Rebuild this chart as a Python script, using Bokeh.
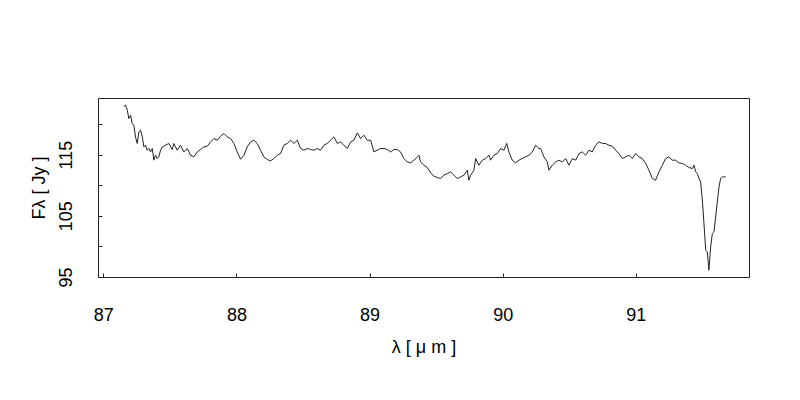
from bokeh.plotting import figure
from bokeh.models import FixedTicker, Range1d
from bokeh.embed import file_html
from bokeh.resources import INLINE

# wavelength (micron) and flux (Jy)
wavelength = [
    87.150, 87.163, 87.176, 87.188, 87.201, 87.213, 87.225, 87.238, 87.251, 87.263,
    87.276, 87.289, 87.301, 87.313, 87.326, 87.338, 87.351, 87.364, 87.376, 87.388,
    87.401, 87.413, 87.426, 87.439, 87.464, 87.488, 87.514, 87.526, 87.551, 87.576,
    87.601, 87.627, 87.651, 87.676, 87.702, 87.727, 87.751, 87.777, 87.802, 87.826,
    87.852, 87.877, 87.902, 87.927, 87.952, 87.977, 88.002, 88.027, 88.052, 88.077,
    88.102, 88.127, 88.153, 88.177, 88.202, 88.228, 88.252, 88.277, 88.303, 88.328,
    88.352, 88.378, 88.403, 88.428, 88.453, 88.478, 88.503, 88.528, 88.553, 88.578,
    88.603, 88.628, 88.653, 88.678, 88.703, 88.728, 88.754, 88.778, 88.803, 88.829,
    88.854, 88.878, 88.904, 88.929, 88.953, 88.979, 89.004, 89.029, 89.054, 89.079,
    89.104, 89.129, 89.154, 89.179, 89.204, 89.229, 89.254, 89.279, 89.304, 89.329,
    89.355, 89.367, 89.379, 89.404, 89.430, 89.455, 89.479, 89.505, 89.530, 89.554,
    89.580, 89.605, 89.630, 89.655, 89.680, 89.705, 89.730, 89.742, 89.755, 89.780,
    89.793, 89.817, 89.843, 89.868, 89.893, 89.905, 89.930, 89.956, 89.980, 90.005,
    90.026, 90.043, 90.068, 90.093, 90.118, 90.143, 90.168, 90.193, 90.219, 90.243,
    90.268, 90.281, 90.306, 90.331, 90.343, 90.369, 90.394, 90.418, 90.444, 90.469,
    90.494, 90.519, 90.544, 90.569, 90.594, 90.619, 90.644, 90.669, 90.694, 90.719,
    90.745, 90.769, 90.794, 90.820, 90.844, 90.869, 90.895, 90.920, 90.944, 90.970,
    90.995, 91.020, 91.045, 91.070, 91.095, 91.120, 91.145, 91.170, 91.195, 91.220,
    91.245, 91.270, 91.295, 91.320, 91.346, 91.370, 91.395, 91.421, 91.433, 91.446,
    91.458, 91.470, 91.483, 91.496, 91.508, 91.521, 91.533, 91.545, 91.558, 91.571,
    91.583, 91.596, 91.608, 91.621, 91.633, 91.646, 91.671,
]
flux = [
    122.99, 123.15, 122.34, 120.98, 121.52, 120.16, 119.89, 117.97, 116.90, 118.79,
    119.07, 117.97, 116.34, 116.62, 115.80, 116.08, 115.52, 116.08, 114.17, 114.98,
    114.44, 114.71, 115.80, 116.34, 116.62, 116.90, 115.92, 116.90, 115.80, 116.62,
    115.52, 116.08, 114.98, 114.71, 115.52, 115.92, 116.34, 116.45, 117.16, 117.71,
    117.43, 118.09, 118.53, 117.97, 117.71, 116.90, 115.52, 114.33, 114.98, 116.34,
    117.16, 117.43, 116.90, 115.80, 114.71, 114.28, 114.05, 114.44, 114.98, 115.26,
    116.62, 116.90, 117.43, 116.90, 117.43, 116.08, 115.80, 116.08, 115.92, 115.80,
    116.08, 115.80, 116.62, 116.90, 117.43, 117.97, 116.90, 117.16, 116.62, 116.08,
    117.16, 117.43, 118.63, 117.71, 118.25, 117.43, 117.43, 115.52, 115.80, 116.08,
    116.08, 115.92, 115.52, 115.92, 115.92, 115.52, 114.44, 113.89, 113.73, 114.17,
    114.71, 114.98, 113.89, 113.35, 112.97, 112.09, 111.55, 111.34, 111.18, 111.72,
    111.99, 112.26, 111.72, 111.18, 111.44, 111.72, 112.53, 110.90, 111.72, 112.53,
    114.44, 113.35, 114.17, 114.44, 114.98, 114.17, 114.98, 115.26, 116.08, 115.80,
    116.90, 115.52, 114.17, 113.73, 114.17, 114.44, 114.71, 114.98, 115.52, 116.62,
    116.08, 116.08, 114.71, 113.89, 112.53, 113.35, 113.89, 114.17, 113.89, 114.44,
    113.35, 114.44, 114.17, 115.26, 115.52, 114.98, 115.80, 115.52, 116.62, 117.16,
    116.90, 116.90, 116.62, 116.45, 115.80, 115.26, 114.44, 114.71, 114.98, 114.44,
    115.26, 114.71, 114.44, 113.63, 112.53, 111.18, 110.90, 112.26, 113.35, 114.44,
    114.71, 114.17, 114.17, 113.73, 113.63, 113.35, 112.97, 112.81, 113.35, 112.26,
    111.99, 111.18, 110.62, 107.63, 103.82, 99.46, 99.18, 96.19, 100.00, 102.19,
    102.45, 104.90, 107.35, 109.80, 111.18, 111.44, 111.44,
]
x_ticks = [87, 88, 89, 90, 91]
y_ticks = [95, 100, 105, 110, 115, 120]
y_tick_labels = {95: "95", 100: "", 105: "105", 110: "", 115: "115", 120: ""}

FONT = "Liberation Sans"

p = figure(
    width=784, height=384, output_backend="svg", toolbar_location=None,
    x_range=Range1d(86.96, 91.85), y_range=Range1d(94.999, 124.25),
    min_border_left=98, min_border_right=35, min_border_top=98, min_border_bottom=107,
)
p.background_fill_color = "white"
p.border_fill_color = "white"
p.outline_line_color = "#222222"
p.outline_line_width = 1
p.grid.visible = False

p.line(wavelength, flux, line_color="#222222", line_width=1)

for ax in (p.xaxis[0], p.yaxis[0]):
    ax.axis_line_color = None
    ax.major_tick_in = 4
    ax.major_tick_out = 0
    ax.major_tick_line_color = "#222222"
    ax.minor_tick_line_color = None
    ax.major_label_text_font = FONT
    ax.major_label_text_font_size = "18px"
    ax.major_label_text_color = "black"
    ax.axis_label_text_font = FONT
    ax.axis_label_text_font_size = "18px"
    ax.axis_label_text_font_style = "normal"
    ax.axis_label_text_color = "black"

p.xaxis.ticker = FixedTicker(ticks=x_ticks)
p.xaxis.major_label_standoff = 30
p.xaxis.axis_label = "\u03bb [ \u03bc m ]"
p.xaxis.axis_label_standoff = 13

p.yaxis.ticker = FixedTicker(ticks=y_ticks)
p.yaxis.major_label_overrides = {k: v for k, v in y_tick_labels.items()}
p.yaxis.major_label_orientation = "vertical"
p.yaxis.major_label_standoff = 26
p.yaxis.axis_label = "F\u03bb [ Jy ]"
p.yaxis.axis_label_standoff = 8

open("out.html", "w").write(file_html(p, INLINE))
